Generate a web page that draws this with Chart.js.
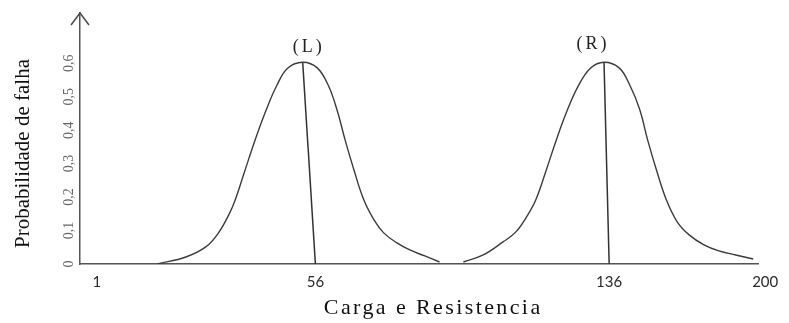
<!DOCTYPE html>
<html>
<head>
<meta charset="utf-8">
<script src="https://cdn.jsdelivr.net/npm/chart.js@4.4.1/dist/chart.umd.min.js"></script>
<style>
  html, body { margin: 0; padding: 0; background: #fff; }
  canvas { display: block; }
</style>
</head>
<body>
<canvas id="chart-carga" width="789" height="323"></canvas>
<script>
// marcas dos eixos
var xTickValues = [1, 56, 136, 200];
var yTickValues = [0, 0.1, 0.2, 0.3, 0.4, 0.5, 0.6];
var yTickLabels = ['0', '0,1', '0,2', '0,3', '0,4', '0,5', '0,6'];

// medias de carga (L) e resistencia (R)
var cargaMedia = 56;
var resistMedia = 136;

// curva da carga (L)
var cargaX = [16.2, 23.4, 28.4, 31.6, 34.4, 35.8, 38.3, 40.8, 43.6, 46.3, 49.0, 52.8,
              56.5, 59.5, 61.9, 64.1, 66.5, 69.2, 72.0, 74.6, 78.2, 81.7, 85.8, 89.8];
var cargaY = [0, 0.021, 0.051, 0.093, 0.152, 0.191, 0.281, 0.370, 0.460, 0.534, 0.585, 0.603,
              0.586, 0.534, 0.460, 0.370, 0.281, 0.191, 0.131, 0.093, 0.063, 0.042, 0.024, 0.006];

// curva da resistencia (R)
var resistX = [96.3, 101.7, 107.1, 110.6, 113.8, 116.0, 118.7, 121.4, 124.4, 127.6, 130.9, 134.6,
               140.1, 144.5, 148.6, 151.8, 155.4, 159.5, 163.9, 168.8, 174.9, 181.0, 187.9, 195.1];
var resistY = [0.006, 0.027, 0.066, 0.096, 0.146, 0.191, 0.275, 0.364, 0.454, 0.532, 0.585, 0.603,
               0.586, 0.534, 0.460, 0.370, 0.281, 0.191, 0.126, 0.087, 0.057, 0.039, 0.027, 0.015];

var picoRotulos = ['(L)', '(R)'];

function pontos(xs, ys) {
    return xs.map(function (x, i) { return {x: x, y: ys[i]}; });
}

function topo(xs, ys) {
    var k = ys.indexOf(Math.max.apply(null, ys));
    return {x: xs[k], y: ys[k]};
}

// eixo linear com escala "desenhada a mao" (trechos lineares entre marcas)
class EixoEsboco extends Chart.LinearScale {
    getPixelForValue(value) {
        var v = this.options.anchorValues, f = this.options.anchorFractions;
        if (!v) return super.getPixelForValue(value);
        var i = 1;
        while (i < v.length - 1 && value > v[i]) i++;
        var t = (value - v[i - 1]) / (v[i] - v[i - 1]);
        return this.getPixelForDecimal(f[i - 1] + t * (f[i] - f[i - 1]));
    }
    getValueForPixel(pixel) {
        var v = this.options.anchorValues, f = this.options.anchorFractions;
        if (!v) return super.getValueForPixel(pixel);
        var d = this.getDecimalForPixel(pixel);
        var i = 1;
        while (i < f.length - 1 && d > f[i]) i++;
        var t = (d - f[i - 1]) / (f[i] - f[i - 1]);
        return v[i - 1] + t * (v[i] - v[i - 1]);
    }
    drawTitle() {
        var ctx = this.ctx;
        ctx.save();
        ctx.letterSpacing = this.options.titleSpacing || '0px';
        ctx.translate(this.options.titleShiftX || 0, this.options.titleShiftY || 0);
        super.drawTitle();
        ctx.restore();
    }
}
EixoEsboco.id = 'esboco';
EixoEsboco.defaults = {};
Chart.register(EixoEsboco);

// seta no topo do eixo y
var setaEixo = {
    id: 'setaEixo',
    afterDraw: function (chart) {
        var ctx = chart.ctx, a = chart.chartArea;
        ctx.save();
        ctx.strokeStyle = '#4a4a4a';
        ctx.lineWidth = 1.5;
        ctx.beginPath();
        ctx.moveTo(a.left - 9, a.top + 12);
        ctx.lineTo(a.left, a.top);
        ctx.lineTo(a.left + 9, a.top + 12);
        ctx.stroke();
        ctx.restore();
    }
};

// (L) e (R) sobre os picos
var rotulosPico = {
    id: 'rotulosPico',
    afterDatasetsDraw: function (chart) {
        var ctx = chart.ctx;
        var desloc = [[6, -15], [-11, -18]];
        ctx.save();
        ctx.font = '18px "Liberation Serif"';
        ctx.fillStyle = '#222';
        ctx.textAlign = 'center';
        ctx.textBaseline = 'middle';
        ctx.letterSpacing = '3px';
        picoRotulos.forEach(function (txt, i) {
            var ds = chart.data.datasets[i].data;
            var k = 0;
            ds.forEach(function (p, j) { if (p.y > ds[k].y) k = j; });
            var el = chart.getDatasetMeta(i).data[k];
            ctx.fillText(txt, el.x + desloc[i][0], el.y + desloc[i][1]);
        });
        ctx.restore();
    }
};

var ctx = document.getElementById('chart-carga').getContext('2d');

var grafico = new Chart(ctx, {
    type: 'line',
    data: {
        datasets: [{
            data: pontos(cargaX, cargaY),
            borderColor: '#3c3c3c',
            borderWidth: 1.4,
            pointRadius: 0,
            tension: 0.4
        },
        {
            data: pontos(resistX, resistY),
            borderColor: '#3c3c3c',
            borderWidth: 1.4,
            pointRadius: 0,
            tension: 0.4
        },
        {
            data: [topo(cargaX, cargaY), {x: cargaMedia, y: 0}],
            borderColor: '#333',
            borderWidth: 1.5,
            pointRadius: 0
        },
        {
            data: [topo(resistX, resistY), {x: resistMedia, y: 0}],
            borderColor: '#333',
            borderWidth: 1.5,
            pointRadius: 0
        }]
    },

    options: {
        responsive: false,
        animation: false,
        devicePixelRatio: 1,
        events: [],
        plugins: {
            legend: { display: false },
            tooltip: { enabled: false }
        },
        layout: {
            padding: { left: 0, right: 24, top: 13, bottom: 0 }
        },
        scales: {
            x: {
                type: 'esboco',
                min: -4,
                max: 200,
                anchorValues: [1, 56, 136, 200],
                anchorFractions: [0.025, 0.347, 0.780, 1.010],
                titleSpacing: '2.4px',
                titleShiftX: 14,
                titleShiftY: -4,
                afterBuildTicks: function (axis) {
                    axis.ticks = xTickValues.map(function (v) { return {value: v}; });
                },
                grid: { display: false, drawTicks: false },
                border: { display: true, color: '#555', width: 1.5 },
                ticks: {
                    autoSkip: false,
                    maxRotation: 0,
                    padding: 11,
                    color: '#2a2a2a',
                    font: { family: 'Lato', size: 15, lineHeight: 1 },
                    callback: function (value) { return String(value); }
                },
                title: {
                    display: true,
                    text: 'Carga e Resistencia',
                    color: '#111',
                    font: { family: 'Liberation Serif', size: 22, lineHeight: 1 },
                    padding: 0
                }
            },
            y: {
                type: 'esboco',
                min: 0,
                max: 0.75,
                titleShiftY: 15,
                afterBuildTicks: function (axis) {
                    axis.ticks = yTickValues.map(function (v) { return {value: v}; });
                },
                grid: { display: false, drawTicks: false },
                border: { display: true, color: '#555', width: 1.5 },
                ticks: {
                    autoSkip: false,
                    minRotation: 90,
                    maxRotation: 90,
                    crossAlign: 'center',
                    padding: 2,
                    color: '#666',
                    font: { family: 'Liberation Serif', size: 14 },
                    callback: function (value, index) { return yTickLabels[index]; }
                },
                title: {
                    display: true,
                    text: 'Probabilidade de falha',
                    color: '#111',
                    font: { family: 'Liberation Serif', size: 21 },
                    padding: { top: 10.4, bottom: 23.6 }
                }
            }
        }
    },
    plugins: [setaEixo, rotulosPico]
});
</script>
</body>
</html>
